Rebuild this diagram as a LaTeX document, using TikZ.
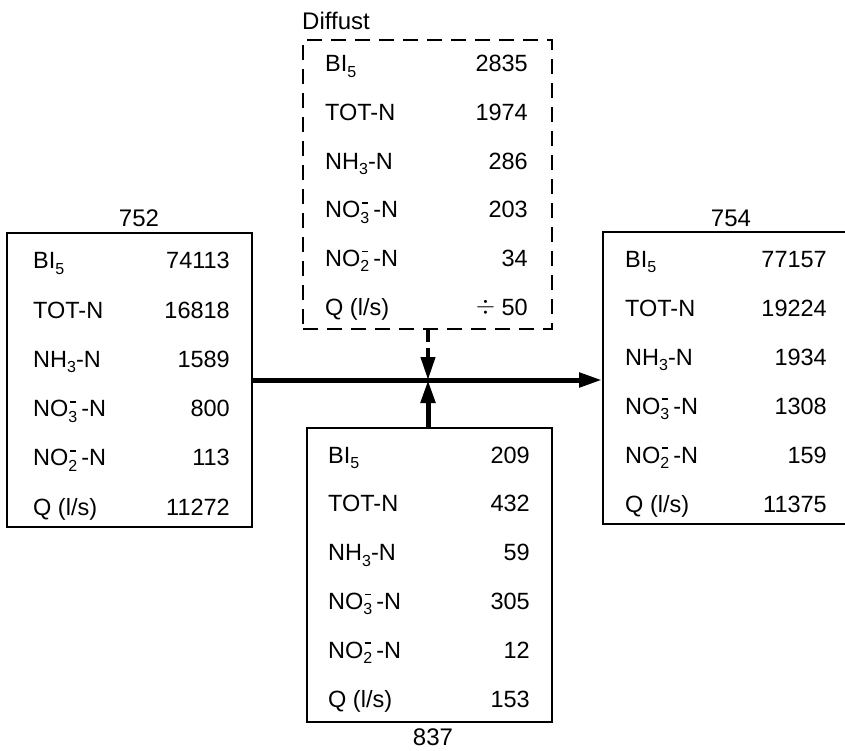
\documentclass[tikz,border=0pt]{standalone}
\usepackage{fontspec}
\setmainfont{Liberation Sans}
\usetikzlibrary{arrows.meta}
\newcommand\smf{\fontsize{16}{16}\selectfont}
\newcommand\lsub[1]{\raisebox{-0.45ex}{\smf #1}}
\newcommand\lsubsup[1]{\rlap{\hspace{1.5pt}\raisebox{14pt}{\rule{6pt}{1.8pt}}}\raisebox{-0.45ex}{\smf #1}}
\newcommand\rowBI{BI\lsub{5}}
\newcommand\rowTOT{TOT-N}
\newcommand\rowNH{NH\lsub{3}-N}
\newcommand\rowNOiii{NO\lsubsup{3}\,-N}
\newcommand\rowNOii{NO\lsubsup{2}\,-N}
\newcommand\rowQ{Q (l/s)}
\begin{document}
\begin{tikzpicture}[x=1pt,y=-1pt,
  every node/.style={font=\fontsize{23.5}{25}\selectfont},
  box/.style={draw, line width=2pt, rectangle, inner sep=0pt},
  dbox/.style={box, dash pattern=on 15pt off 9pt},
  lab/.style={anchor=base west, inner sep=0pt},
  val/.style={anchor=base east, inner sep=0pt},
  ttl/.style={anchor=base, inner sep=0pt, font=\fontsize{24}{26}\selectfont},
  flow/.style={line width=5pt, -{Triangle[length=23pt,width=14pt]}},
  dflow/.style={line width=4pt, dash pattern=on 12pt off 6pt, -{Triangle[length=23pt,width=14pt]}}]
\useasboundingbox (0,0) rectangle (845,751);

% boxes
\node[box, minimum width=245pt, minimum height=294pt] (b752) at (129.5,380) {};
\node[box, minimum width=245pt, minimum height=292pt] (b754) at (725.5,378) {};
\node[dbox, minimum width=249pt, minimum height=289pt] (bdif) at (427.5,184.5) {};
\node[box, minimum width=245pt, minimum height=294pt] (b837) at (429.5,575) {};

% titles
\node[ttl] (t752) at (139,227) {752};
\node[ttl] (t754) at (731,226) {754};
\node[ttl, anchor=base west] (tdif) at (302,30) {Diffust};
\node[ttl] (t837) at (433,745) {837};

% rows
\foreach \nm/\lx/\vx/\by/\sp/\va/\vb/\vc/\vd/\ve/\vf in {
  a/33/230/269/49.2/74113/16818/1589/800/113/11272,
  d/325/528/72/48.6/2835/1974/286/203/34/{\raisebox{0.1ex}{$\div$}\ 50},
  b/625/827/267/49/77157/19224/1934/1308/159/11375,
  c/328/530/463/48.8/209/432/59/305/12/153} {
  \node[lab] (\nm l1) at (\lx,\by) {\rowBI};
  \node[lab] (\nm l2) at (\lx,\by+\sp) {\rowTOT};
  \node[lab] (\nm l3) at (\lx,\by+2*\sp) {\rowNH};
  \node[lab] (\nm l4) at (\lx,\by+3*\sp) {\rowNOiii};
  \node[lab] (\nm l5) at (\lx,\by+4*\sp) {\rowNOii};
  \node[lab] (\nm l6) at (\lx,\by+5*\sp) {\rowQ};
  \node[val] (\nm v1) at (\vx,\by) {\va};
  \node[val] (\nm v2) at (\vx,\by+\sp) {\vb};
  \node[val] (\nm v3) at (\vx,\by+2*\sp) {\vc};
  \node[val] (\nm v4) at (\vx,\by+3*\sp) {\vd};
  \node[val] (\nm v5) at (\vx,\by+4*\sp) {\ve};
  \node[val] (\nm v6) at (\vx,\by+5*\sp) {\vf};
}

% connectors
\coordinate (j) at (428,380);
\draw[line width=5pt] (b752.east) -- (j);
\draw[flow] (j) -- (j -| b754.west);
\draw[flow] (j |- b837.north) -- (j);
\draw[dflow] (j |- bdif.south) -- (j);
\end{tikzpicture}
\end{document}
